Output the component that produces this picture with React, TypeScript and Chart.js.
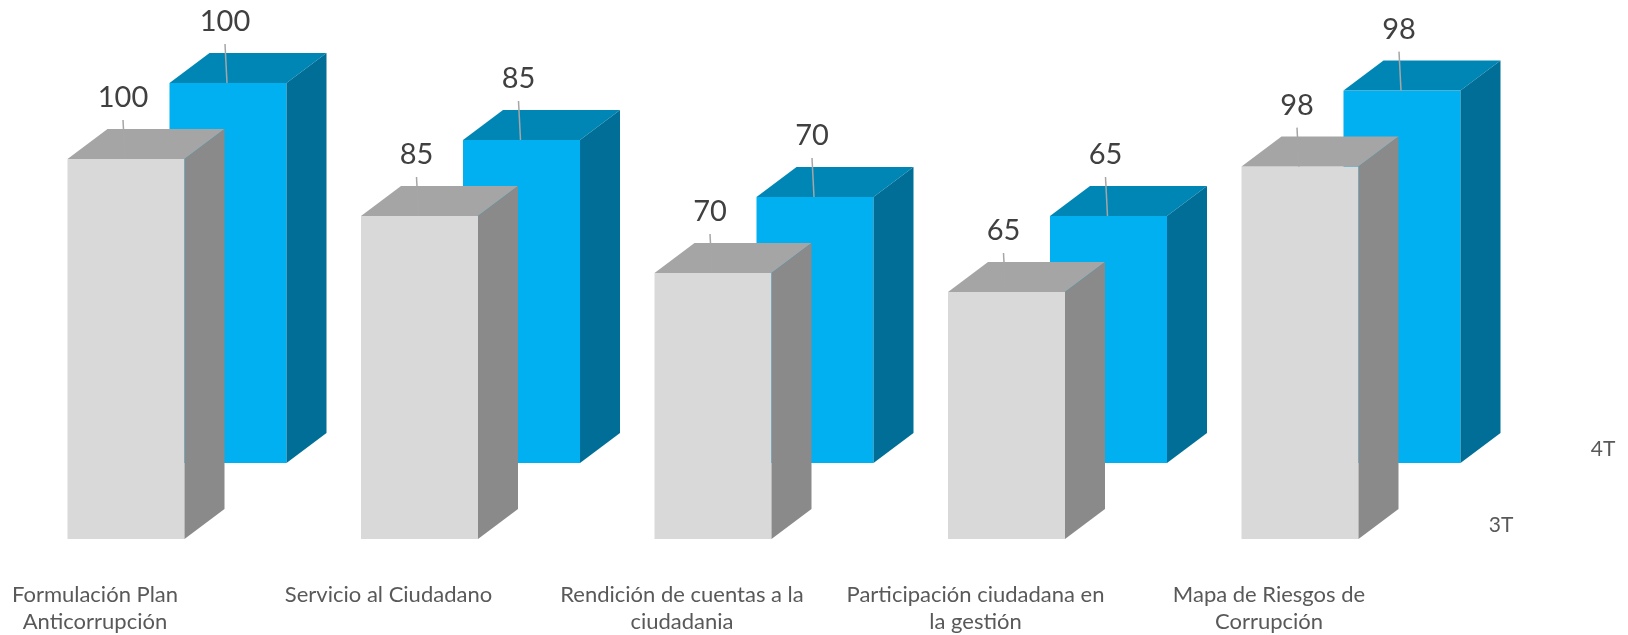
import React, { useEffect, useRef } from 'react';
import { Chart, registerables } from 'chart.js';

Chart.register(...registerables);

// ---- data ----
const categories: string[][] = [
  ['Formulación Plan', 'Anticorrupción'],
  ['Servicio al Ciudadano'],
  ['Rendición de cuentas a la', 'ciudadania'],
  ['Participación ciudadana en', 'la gestión'],
  ['Mapa de Riesgos de', 'Corrupción'],
];
const seriesNames = ['3T', '4T'];
const values3T = [100, 85, 70, 65, 98];
const values4T = [100, 85, 70, 65, 98];

// ---- styling / geometry ----
const FRONT_W = 117;
const DEPTH_X = 40;
const DEPTH_Y = -30;
const ROW_DX = 102;
const ROW_DY = -76;
const palettes = [
  { front: '#D9D9D9', top: '#A5A5A5', side: '#8A8A8A' },
  { front: '#00B0F0', top: '#0086B5', side: '#006E96' },
];
const FONT = 'Lato, "Open Sans", sans-serif';

const box3dPlugin = {
  id: 'box3d',
  afterDatasetsDraw(chart: any) {
    const ctx: CanvasRenderingContext2D = chart.ctx;
    const xs = chart.scales.x;
    const ys = chart.scales.y;
    const base = ys.getPixelForValue(0);
    const datasets = chart.data.datasets;
    ctx.save();
    // back rows first
    for (let r = datasets.length - 1; r >= 0; r--) {
      const pal = palettes[r];
      const dx = r * ROW_DX;
      const dy = r * ROW_DY;
      datasets[r].data.forEach((v: number, i: number) => {
        const cx = xs.getPixelForValue(i) + dx;
        const x0 = cx - FRONT_W / 2;
        const x1 = cx + FRONT_W / 2;
        const yTop = ys.getPixelForValue(v) + dy;
        const yBot = base + dy;
        ctx.fillStyle = pal.front;
        ctx.fillRect(x0, yTop, FRONT_W, yBot - yTop);
        ctx.fillStyle = pal.top;
        ctx.beginPath();
        ctx.moveTo(x0, yTop);
        ctx.lineTo(x0 + DEPTH_X, yTop + DEPTH_Y);
        ctx.lineTo(x1 + DEPTH_X, yTop + DEPTH_Y);
        ctx.lineTo(x1, yTop);
        ctx.closePath();
        ctx.fill();
        ctx.fillStyle = pal.side;
        ctx.beginPath();
        ctx.moveTo(x1, yTop);
        ctx.lineTo(x1 + DEPTH_X, yTop + DEPTH_Y);
        ctx.lineTo(x1 + DEPTH_X, yBot + DEPTH_Y);
        ctx.lineTo(x1, yBot);
        ctx.closePath();
        ctx.fill();
      });
    }
    // data labels with leader lines
    ctx.font = `29px ${FONT}`;
    ctx.textAlign = 'center';
    ctx.textBaseline = 'middle';
    for (let r = datasets.length - 1; r >= 0; r--) {
      const dx = r * ROW_DX;
      const dy = r * ROW_DY;
      datasets[r].data.forEach((v: number, i: number) => {
        const cx = xs.getPixelForValue(i) + dx;
        const yTop = ys.getPixelForValue(v) + dy;
        const lx = cx - 3;
        const ly = yTop - 61;
        ctx.strokeStyle = '#A6A6A6';
        ctx.lineWidth = 1.5;
        ctx.beginPath();
        ctx.moveTo(lx, ly + 22);
        ctx.lineTo(cx - 1, yTop);
        ctx.stroke();
        ctx.fillStyle = '#404040';
        ctx.fillText(String(v), lx, ly);
      });
    }
    // series (depth) axis labels
    ctx.font = `21px ${FONT}`;
    ctx.fillStyle = '#595959';
    const last = chart.data.labels.length - 1;
    const sx = xs.getPixelForValue(last) + 201;
    const sy = base - 14;
    datasets.forEach((ds: any, r: number) => {
      ctx.fillText(ds.label, sx + r * ROW_DX, sy + r * ROW_DY);
    });
    ctx.restore();
  },
};

export default function App() {
  const canvasRef = useRef<HTMLCanvasElement | null>(null);

  useEffect(() => {
    if (!canvasRef.current) return;
    const chart = new Chart(canvasRef.current, {
      type: 'bar',
      data: {
        labels: categories,
        datasets: [
          { label: seriesNames[0], data: values3T, backgroundColor: 'rgba(0,0,0,0)', borderWidth: 0, grouped: false, barThickness: FRONT_W },
          { label: seriesNames[1], data: values4T, backgroundColor: 'rgba(0,0,0,0)', borderWidth: 0, grouped: false, barThickness: FRONT_W },
        ],
      },
      options: {
        animation: false,
        responsive: true,
        maintainAspectRatio: false,
        layout: { padding: { left: 126, right: 328, top: 7, bottom: 0 } },
        plugins: { legend: { display: false }, tooltip: { enabled: false } },
        scales: {
          y: { display: false, min: 0, max: 140 },
          x: {
            offset: false,
            grid: { display: false, drawTicks: false },
            border: { display: false },
            ticks: {
              color: '#595959',
              font: { family: FONT, size: 22, lineHeight: 1.25 },
              labelOffset: -31,
              padding: 42,
              maxRotation: 0,
              minRotation: 0,
              autoSkip: false,
            },
            afterFit: (s: any) => {
              s.height = 96;
            },
          },
        },
      },
      plugins: [box3dPlugin],
    });
    return () => chart.destroy();
  }, []);

  return (
    <div style={{ position: 'fixed', left: 0, top: 0, width: 1628, height: 635, background: '#fff' }}>
      <canvas ref={canvasRef} />
    </div>
  );
}
